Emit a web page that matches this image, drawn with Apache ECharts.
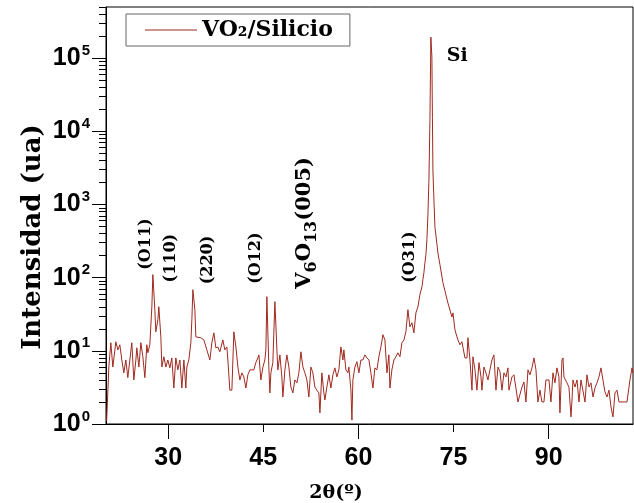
<!DOCTYPE html>
<html>
<head>
<meta charset="utf-8">
<script src="https://cdn.jsdelivr.net/npm/echarts@6/dist/echarts.min.js"></script>
<style>
html,body{margin:0;padding:0;background:#fff;}
#chart{width:634px;height:503px;}
</style>
</head>
<body>
<div id="chart"></div>
<script>
// ---- data: [2θ (deg), intensity (a.u.)] ----
const scanLow = [[20.3,1.1],[20.65,6.0],[20.96,12.9],[21.28,6.0],[21.75,13.3],[22.07,10.3],[22.38,12.1],[22.70,7.5],[23.01,5.0],[23.33,7.5],[23.64,4.3],[23.96,7.5],[24.27,12.9],[24.59,4.0],[24.91,7.5],[25.06,11.0],[25.38,6.0],[25.70,12.9],[26.01,8.3],[26.33,4.3],[26.64,12.1],[26.80,9.4],[27.11,12.1],[27.43,40],[27.59,110],[27.90,36.5],[28.06,18.2],[28.38,26.6],[28.53,40],[28.85,15.5],[29.01,6.0],[29.32,8.3],[29.64,6.0],[29.95,7.5],[30.27,5.85],[30.58,8.0],[30.90,3.1],[31.21,8.0],[31.53,5.5],[31.85,7.5],[32.16,3.1],[32.48,7.5],[32.79,3.1],[32.95,6.0],[33.26,7.5],[33.58,12.9],[33.74,26.6],[33.90,68.5],[34.21,36.5],[34.37,15.5],[34.68,15.5],[35.16,15.1],[35.63,14.1],[36.10,10.3],[36.58,7.5],[36.89,12.9]];
const scanMid = [[37.21,17.6],[37.52,11.0],[37.84,11.3],[38.15,9.7],[38.63,14.1],[38.94,10.3],[39.26,11.3],[39.42,7.5],[39.73,2.9],[40.05,2.9],[40.36,18.2],[40.68,11.3],[41.00,6.0],[41.31,4.0],[41.63,5.0],[41.94,4.4],[42.26,3.1],[42.57,4.7],[42.89,5.5],[43.20,5.85],[43.52,5.5],[43.83,6.9],[44.15,8.0],[44.31,8.8],[44.62,4.0],[44.94,6.0],[45.25,7.5],[45.41,10.3],[45.57,55],[45.88,6.0],[46.04,2.66],[46.20,5.0],[46.51,6.9],[46.83,47],[47.15,10.3],[47.30,5.5],[47.62,8.8],[47.93,4.4],[48.09,2.34],[48.41,5.5],[48.72,8.8],[49.04,6.0],[49.35,3.2],[49.67,2.66],[49.98,4.0],[50.30,3.65],[50.62,5.0],[50.93,9.7],[51.25,6.0],[51.56,5.0],[51.88,4.0],[52.19,2.34],[52.51,6.0],[52.82,5.0],[53.14,3.2],[53.45,2.9],[53.77,2.66],[53.93,1.42]];
const scanRise = [[54.24,5.0],[54.56,2.66],[54.72,2.13],[55.03,3.2],[55.35,4.7],[55.66,3.1],[55.98,4.7],[56.29,5.85],[56.61,4.4],[56.92,5.5],[57.24,11.3],[57.56,7.5],[57.71,10.3],[58.03,5.5],[58.34,5.0],[58.50,6.0],[58.82,2.9],[58.98,1.13],[59.13,4.0],[59.45,6.0],[59.76,7.1],[60.08,5.0],[60.39,7.5],[60.71,7.5],[61.03,8.8],[61.34,8.0],[61.66,7.5],[61.97,5.0],[62.29,3.1],[62.60,5.85],[62.92,5.5],[63.23,8.3],[63.55,11.3],[63.87,16.6],[64.18,14.1],[64.50,5.0],[64.81,8.8],[64.97,3.1],[65.28,5.5],[65.60,7.5],[65.91,8.3],[66.23,9.4],[66.55,8.3],[66.86,12.9],[67.18,14.1],[67.49,18.2],[67.81,36.5],[68.12,21.3],[68.44,24.2],[68.75,17.6],[69.07,33],[69.39,40],[69.70,58.5],[70.02,75],[70.17,94]];
const siPeak = [[70.33,117],[70.49,160],[70.65,207],[70.80,330],[70.96,716],[71.12,2150],[71.28,14200],[71.43,194000],[71.59,103000],[71.67,15600],[71.75,2950],[71.91,1150],[72.07,490],[72.38,290],[72.54,217],[72.86,150],[73.33,85],[74.12,45],[74.75,29],[74.91,33],[75.22,19.4]];
const scanHigh = [[75.54,15.5],[75.70,14.1],[76.01,12.1],[76.33,13.3],[76.48,11.3],[76.80,8.0],[77.12,8.0],[77.27,15.1],[77.59,7.5],[77.91,2.9],[78.06,8.3],[78.38,5.5],[78.69,2.9],[79.01,6.9],[79.33,4.4],[79.48,2.9],[79.80,6.0],[80.11,5.0],[80.43,4.0],[80.74,5.5],[81.06,7.5],[81.37,8.8],[81.69,2.9],[82.01,6.0],[82.32,5.2],[82.64,2.9],[82.95,5.0],[83.27,4.4],[83.58,5.85],[83.74,2.9],[84.21,4.4],[84.53,4.7],[84.84,5.0],[85.16,2.0],[85.47,2.0],[85.79,3.2],[86.10,3.76],[86.42,2.0],[86.74,5.5],[87.05,4.7],[87.37,5.85],[87.68,8.0],[88.00,5.5],[88.31,2.0],[88.63,2.9],[88.94,2.0],[89.26,2.0],[89.42,2.0],[89.57,4.0],[90.05,4.0],[90.36,2.0],[90.68,5.0],[90.99,3.65],[91.31,5.85],[91.62,4.4],[91.78,1.42],[92.10,7.5],[92.26,8.0],[92.41,4.4],[92.89,3.65],[93.20,3.2],[93.52,1.25],[93.68,2.13],[93.83,4.0],[94.15,3.2],[94.47,4.0],[94.78,2.0],[95.10,4.0],[95.41,4.0],[95.73,2.0],[96.04,4.7],[96.36,3.2],[96.67,3.65],[96.99,2.34],[97.30,3.1],[97.62,3.65],[97.93,4.4],[98.25,5.85],[98.56,4.0],[98.88,2.74],[99.20,2.34],[99.51,2.9],[99.83,1.71],[100.14,1.25],[100.46,2.66],[100.77,2.9],[101.09,2.0],[101.40,2.0],[101.88,2.0],[102.35,2.0],[102.82,4.0],[103.14,5.85],[103.30,5.0]];

const seriesName = 'VO\u2082/Silicio';
const xTickLabels = [30, 45, 60, 75, 90];
const xMajorTicks = [30, 60, 90];
const xMinorTicks = [45, 75];
const yDecadeExponents = [0, 1, 2, 3, 4, 5];
const xMin = 20.2, xMax = 103.3;
const yMin = 1, yMax = 500000;

// peak annotations (label anchor in data space)
const peakLabelTexts = ['(O11)', '(110)', '(220)', '(O12)', '{m|V}{s|6}{m|O}{s|13}{m|(005)}', '(O31)'];
const peakLabelAngles = [26.45, 30.4, 36.25, 43.8, 51.45, 68.1];
const peakLabelIntensities = [288, 185, 174, 185, 560, 191];
const siLabel = { text: 'Si', angle: 75.6, intensity: 106000 };

const LOG_MAX = Math.log10(yMax);
const yMinorTicks = [];
yDecadeExponents.forEach(function (d) {
  for (let k = 2; k <= 9; k++) {
    const v = Math.log10(k) + d;
    if (v <= LOG_MAX + 1e-9) yMinorTicks.push(v);
  }
});

const chart = echarts.init(document.getElementById('chart'), null, { renderer: 'canvas' });
const LINE_COLOR = '#A02A20';
const serif = 'DejaVu Serif';
const sans = 'Liberation Sans';

chart.setOption({
  animation: false,
  backgroundColor: '#fff',
  grid: { left: 106, right: 1, top: 7, bottom: 79, show: true, borderColor: '#000', borderWidth: 1, backgroundColor: 'transparent' },
  legend: {
    left: 126, top: 14,
    data: [seriesName],
    icon: 'rect', itemWidth: 52, itemHeight: 1,
    padding: [5, 17, 5, 19],
    borderColor: '#666', borderWidth: 1, backgroundColor: '#fff',
    textStyle: { fontFamily: serif, fontWeight: 'bold', fontSize: 22, color: '#000' }
  },
  xAxis: [
    {
      type: 'value', min: xMin, max: xMax,
      axisLine: { lineStyle: { color: '#000', width: 1 } },
      axisTick: { show: true, length: 15, customValues: xMajorTicks, lineStyle: { color: '#000', width: 1 } },
      axisLabel: { customValues: xTickLabels, margin: 22, color: '#000', fontFamily: sans, fontWeight: 'bold', fontSize: 25 },
      splitLine: { show: false }
    },
    {
      type: 'value', min: xMin, max: xMax, position: 'bottom',
      axisLine: { show: false },
      axisTick: { show: true, length: 8, customValues: xMinorTicks, lineStyle: { color: '#000', width: 1 } },
      axisLabel: { show: false },
      splitLine: { show: false }
    }
  ],
  yAxis: [
    {
      type: 'log', logBase: 10, min: yMin, max: yMax,
      axisLine: { show: true, lineStyle: { color: '#000', width: 1 } },
      axisTick: { show: false },
      axisLabel: { show: false },
      splitLine: { show: false }
    },
    {
      type: 'value', min: 0, max: LOG_MAX, position: 'left',
      axisLine: { show: false },
      axisTick: { show: true, length: 14, customValues: yDecadeExponents, lineStyle: { color: '#000', width: 1 } },
      axisLabel: {
        customValues: yDecadeExponents, margin: 16,
        formatter: function (v) { return '{b|10}{s|' + Math.round(v) + '}'; },
        rich: {
          b: { fontFamily: sans, fontWeight: 'bold', fontSize: 25, color: '#000' },
          s: { fontFamily: sans, fontWeight: 'bold', fontSize: 15, color: '#000', padding: [0, 0, 15, 1] }
        }
      },
      splitLine: { show: false }
    },
    {
      type: 'value', min: 0, max: LOG_MAX, position: 'left',
      axisLine: { show: false },
      axisTick: { show: true, length: 7, customValues: yMinorTicks, lineStyle: { color: '#000', width: 1 } },
      axisLabel: { show: false },
      splitLine: { show: false }
    }
  ],
  series: [{
    name: seriesName,
    type: 'line',
    xAxisIndex: 0, yAxisIndex: 0,
    data: scanLow.concat(scanMid, scanRise, siPeak, scanHigh),
    showSymbol: false, symbol: 'none',
    color: LINE_COLOR,
    lineStyle: { color: LINE_COLOR, width: 1 },
    clip: true
  }]
});

// annotations placed via the chart's own coordinate conversion
const graphics = [];
peakLabelTexts.forEach(function (t, i) {
  const p = chart.convertToPixel({ xAxisIndex: 0, yAxisIndex: 0 }, [peakLabelAngles[i], peakLabelIntensities[i]]);
  graphics.push({
    type: 'text', x: p[0], y: p[1], rotation: Math.PI / 2,
    style: {
      text: t, fill: '#000', align: 'center', verticalAlign: 'middle',
      fontFamily: serif, fontWeight: 'bold', fontSize: 16,
      rich: {
        m: { fontFamily: serif, fontWeight: 'bold', fontSize: 21, fill: '#000' },
        s: { fontFamily: serif, fontWeight: 'bold', fontSize: 16, fill: '#000', padding: [16, 0, 0, 0] }
      }
    }
  });
});
const sp = chart.convertToPixel({ xAxisIndex: 0, yAxisIndex: 0 }, [siLabel.angle, siLabel.intensity]);
graphics.push({
  type: 'text', x: sp[0], y: sp[1],
  style: { text: siLabel.text, fill: '#000', align: 'center', verticalAlign: 'middle', fontFamily: serif, fontWeight: 'bold', fontSize: 19 }
});
graphics.push({
  type: 'text', x: 33, y: 237, rotation: Math.PI / 2,
  style: { text: 'Intensidad (ua)', fill: '#000', align: 'center', verticalAlign: 'middle', fontFamily: serif, fontWeight: 'bold', fontSize: 26 }
});
graphics.push({
  type: 'text', x: 336, y: 493,
  style: { text: '2\u03b8(\u00ba)', fill: '#000', align: 'center', verticalAlign: 'middle', fontFamily: serif, fontWeight: 'bold', fontSize: 19 }
});
chart.setOption({ graphic: graphics });
</script>
</body>
</html>
